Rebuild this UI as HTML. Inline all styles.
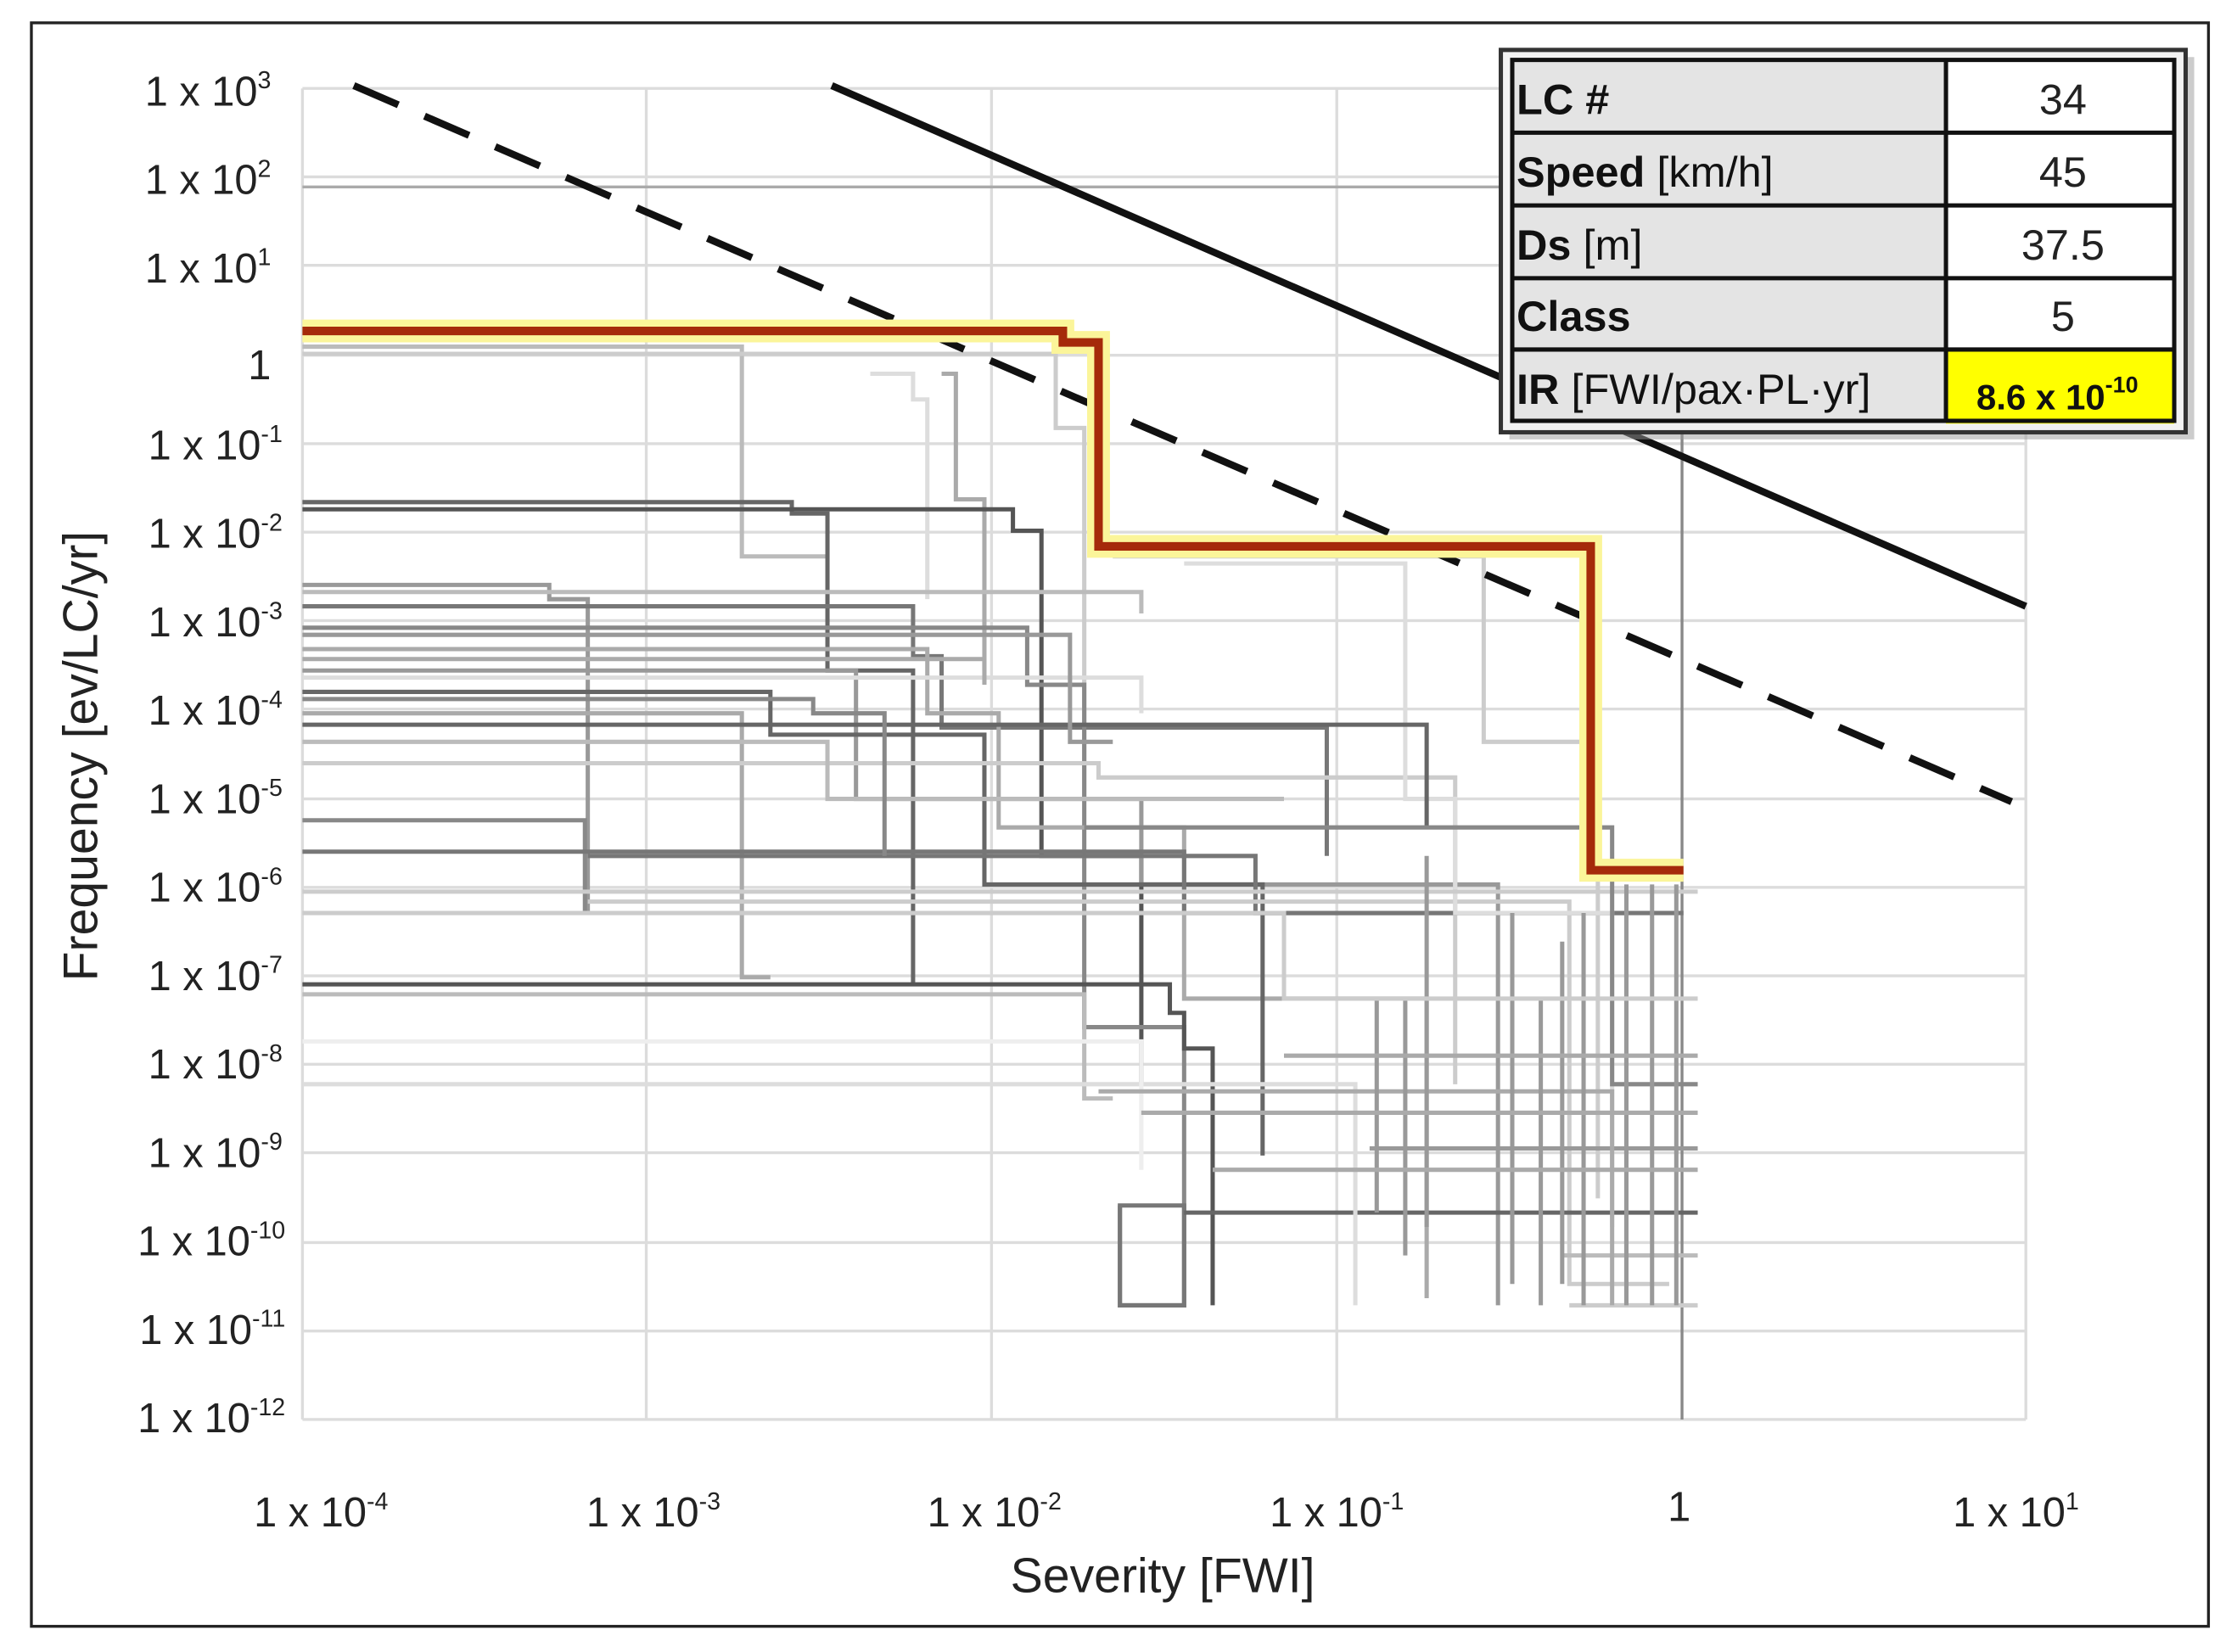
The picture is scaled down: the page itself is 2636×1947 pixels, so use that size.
<!DOCTYPE html>
<html><head><meta charset="utf-8"><style>
html,body{margin:0;padding:0;background:#fff;}
svg{display:block;}
text{font-family:"Liberation Sans",sans-serif;}
</style></head><body>
<svg width="2636" height="1947" viewBox="0 0 1568 1158" preserveAspectRatio="none" xmlns="http://www.w3.org/2000/svg">
<rect x="0" y="0" width="1568" height="1158" fill="#fff"/>
<rect x="22" y="16" width="1526" height="1124" fill="#fff" stroke="#222" stroke-width="2"/>
<!-- grid -->
<g stroke="#dcdcdc" stroke-width="2" fill="none">
<path d="M212,62H1420M212,124H1420M212,186H1420M212,249H1420M212,311H1420M212,373H1420M212,435H1420M212,497H1420M212,560H1420M212,622H1420M212,684H1420M212,746H1420M212,808H1420M212,871H1420M212,933H1420M212,995H1420"/>
<path d="M212,62V995M453,62V995M695,62V995M937,62V995M1420,62V995"/>
</g>
<path d="M212,131H1060" stroke="#aaa" stroke-width="2"/>
<path d="M1179,300V995" stroke="#888" stroke-width="2"/>
<!-- gray step curves -->
<g fill="none" stroke-width="3">
<path stroke="#bbb" d="M212,243H520V390H580"/>
<path stroke="#ccc" d="M212,248H740V300H760V560"/>
<path stroke="#ddd" d="M610,262H640V280H650V420"/>
<path stroke="#aaa" d="M660,262H670V350H690V470"/>
<path stroke="#666" d="M212,352H555V360H580V470H640V690"/>
<path stroke="#555" d="M212,357H710V372H730V600H800V760"/>
<path stroke="#999" d="M212,410H385V420H412V640"/>
<path stroke="#777" d="M212,425H640V460H660V510H930V600"/>
<path stroke="#888" d="M212,440H720V480H760V720H830V915H785V845"/>
<path stroke="#aaa" d="M212,455H650V500H700V580H830V700H1000V910"/>
<path stroke="#999" d="M212,470H600V560H800V620H1050V915"/>
<path stroke="#666" d="M212,485H540V515H690V620H885V810"/>
<path stroke="#aaa" d="M212,500H520V685H540"/>
<path stroke="#ccc" d="M212,535H770V545H1020V760"/>
<path stroke="#888" d="M212,575H410V640"/>
<path stroke="#777" d="M212,597H830V640H1140V915"/>
<path stroke="#555" d="M212,690H820V710H830V735H850V915"/>
<path stroke="#bbb" d="M212,697H760V770H780"/>
<path stroke="#777" d="M412,600H880V640H1180"/>
<path stroke="#ccc" d="M412,632H1100V900H1170"/>
<path stroke="#ccc" d="M780,390H1040V520H1120V840"/>
<path stroke="#ddd" d="M830,395H985V560H1020V640H1130V860"/>
<path stroke="#777" d="M785,845H830V915H785Z"/>
<path stroke="#666" d="M830,850H1190"/>
<path stroke="#999" d="M960,805H1190"/>
<path stroke="#bbb" d="M1095,880H1190"/>
<path stroke="#ccc" d="M1100,915H1190"/>
<path stroke="#ddd" d="M212,760H950V915"/>
<path stroke="#eee" d="M212,730H800V820"/>
<path stroke="#aaa" d="M770,765H1130V915"/>
<path stroke="#ccc" d="M212,625H1190"/>
<path stroke="#bbb" d="M212,520H580V560H900"/>
<path stroke="#ddd" d="M212,475H800V500"/>
<path stroke="#666" d="M212,508H930H1000V580"/>
<path stroke="#888" d="M760,580H1130V760H1190"/>
<path stroke="#999" d="M1158,620V915M1140,620V915M1175,620V915M1110,640V915M1095,660V900M1080,700V915M1060,640V900M985,700V880M1000,600V860M965,700V850"/>
<path stroke="#bbb" d="M212,415H800V430"/>
<path stroke="#999" d="M212,445H750V520H780"/>
<path stroke="#aaa" d="M212,462H690V480"/>
<path stroke="#888" d="M212,490H570V500H620V600"/>
<path stroke="#ccc" d="M212,640H900V700H1190"/>
<path stroke="#aaa" d="M800,780H1190M850,820H1190M900,740H1190"/>
</g>
<!-- reference lines -->
<path d="M583,60L1420,425" stroke="#111" stroke-width="5"/>
<path d="M248,60L1410,562" stroke="#111" stroke-width="5" stroke-dasharray="34,20"/>
<!-- highlighted curve -->
<path d="M212,232H745V240H770V383H1115V610H1180" fill="none" stroke="#fbf59a" stroke-width="16" stroke-linejoin="miter"/>
<path d="M212,232H745V240H770V383H1115V610H1180" fill="none" stroke="#a52a0a" stroke-width="6"/>
<!-- y labels -->
<g font-size="29" fill="#222" text-anchor="end">
<text x="190" y="74">1 x 10<tspan font-size="17" dy="-12">3</tspan></text>
<text x="190" y="136">1 x 10<tspan font-size="17" dy="-12">2</tspan></text>
<text x="190" y="198">1 x 10<tspan font-size="17" dy="-12">1</tspan></text>
<text x="190" y="266">1</text>
<text x="198" y="322">1 x 10<tspan font-size="17" dy="-12">-1</tspan></text>
<text x="198" y="384">1 x 10<tspan font-size="17" dy="-12">-2</tspan></text>
<text x="198" y="446">1 x 10<tspan font-size="17" dy="-12">-3</tspan></text>
<text x="198" y="508">1 x 10<tspan font-size="17" dy="-12">-4</tspan></text>
<text x="198" y="570">1 x 10<tspan font-size="17" dy="-12">-5</tspan></text>
<text x="198" y="632">1 x 10<tspan font-size="17" dy="-12">-6</tspan></text>
<text x="198" y="694">1 x 10<tspan font-size="17" dy="-12">-7</tspan></text>
<text x="198" y="756">1 x 10<tspan font-size="17" dy="-12">-8</tspan></text>
<text x="198" y="818">1 x 10<tspan font-size="17" dy="-12">-9</tspan></text>
<text x="200" y="880">1 x 10<tspan font-size="17" dy="-12">-10</tspan></text>
<text x="200" y="942">1 x 10<tspan font-size="17" dy="-12">-11</tspan></text>
<text x="200" y="1004">1 x 10<tspan font-size="17" dy="-12">-12</tspan></text>
</g>
<!-- x labels -->
<g font-size="29" fill="#222" text-anchor="middle">
<text x="225" y="1070">1 x 10<tspan font-size="17" dy="-12">-4</tspan></text>
<text x="458" y="1070">1 x 10<tspan font-size="17" dy="-12">-3</tspan></text>
<text x="697" y="1070">1 x 10<tspan font-size="17" dy="-12">-2</tspan></text>
<text x="937" y="1070">1 x 10<tspan font-size="17" dy="-12">-1</tspan></text>
<text x="1177" y="1066">1</text>
<text x="1413" y="1070">1 x 10<tspan font-size="17" dy="-12">1</tspan></text>
</g>
<text x="815" y="1116" font-size="34" fill="#222" text-anchor="middle">Severity [FWI]</text>
<text transform="translate(68,530) rotate(-90)" font-size="34" fill="#222" text-anchor="middle">Frequency [ev/LC/yr]</text>
<!-- table -->
<rect x="1058" y="40" width="480" height="268" fill="#999" opacity="0.5"/>
<rect x="1052" y="35" width="480" height="268" fill="#f2f2f2" stroke="#333" stroke-width="3"/>
<rect x="1060" y="42" width="304" height="253" fill="#e4e4e4"/>
<rect x="1364" y="42" width="160" height="253" fill="#fff"/>
<rect x="1364" y="245" width="160" height="52" fill="#ffff00"/>
<g stroke="#111" stroke-width="3" fill="none">
<rect x="1060" y="42" width="464" height="253"/>
<path d="M1060,93H1524M1060,144H1524M1060,195H1524M1060,245H1524M1364,42V295"/>
</g>
<g font-size="30" fill="#111">
<text x="1063" y="80" font-weight="bold">LC #</text>
<text x="1063" y="131"><tspan font-weight="bold">Speed</tspan> [km/h]</text>
<text x="1063" y="182"><tspan font-weight="bold">Ds</tspan> [m]</text>
<text x="1063" y="232" font-weight="bold">Class</text>
<text x="1063" y="283"><tspan font-weight="bold">IR</tspan> [FWI/pax·PL·yr]</text>
</g>
<g font-size="30" fill="#222" text-anchor="middle">
<text x="1446" y="80">34</text>
<text x="1446" y="131">45</text>
<text x="1446" y="182">37.5</text>
<text x="1446" y="232">5</text>
</g>
<text x="1442" y="287" font-size="25" font-weight="bold" fill="#111" text-anchor="middle">8.6 x 10<tspan font-size="16" dy="-12">-10</tspan></text>
</svg>
</body></html>
